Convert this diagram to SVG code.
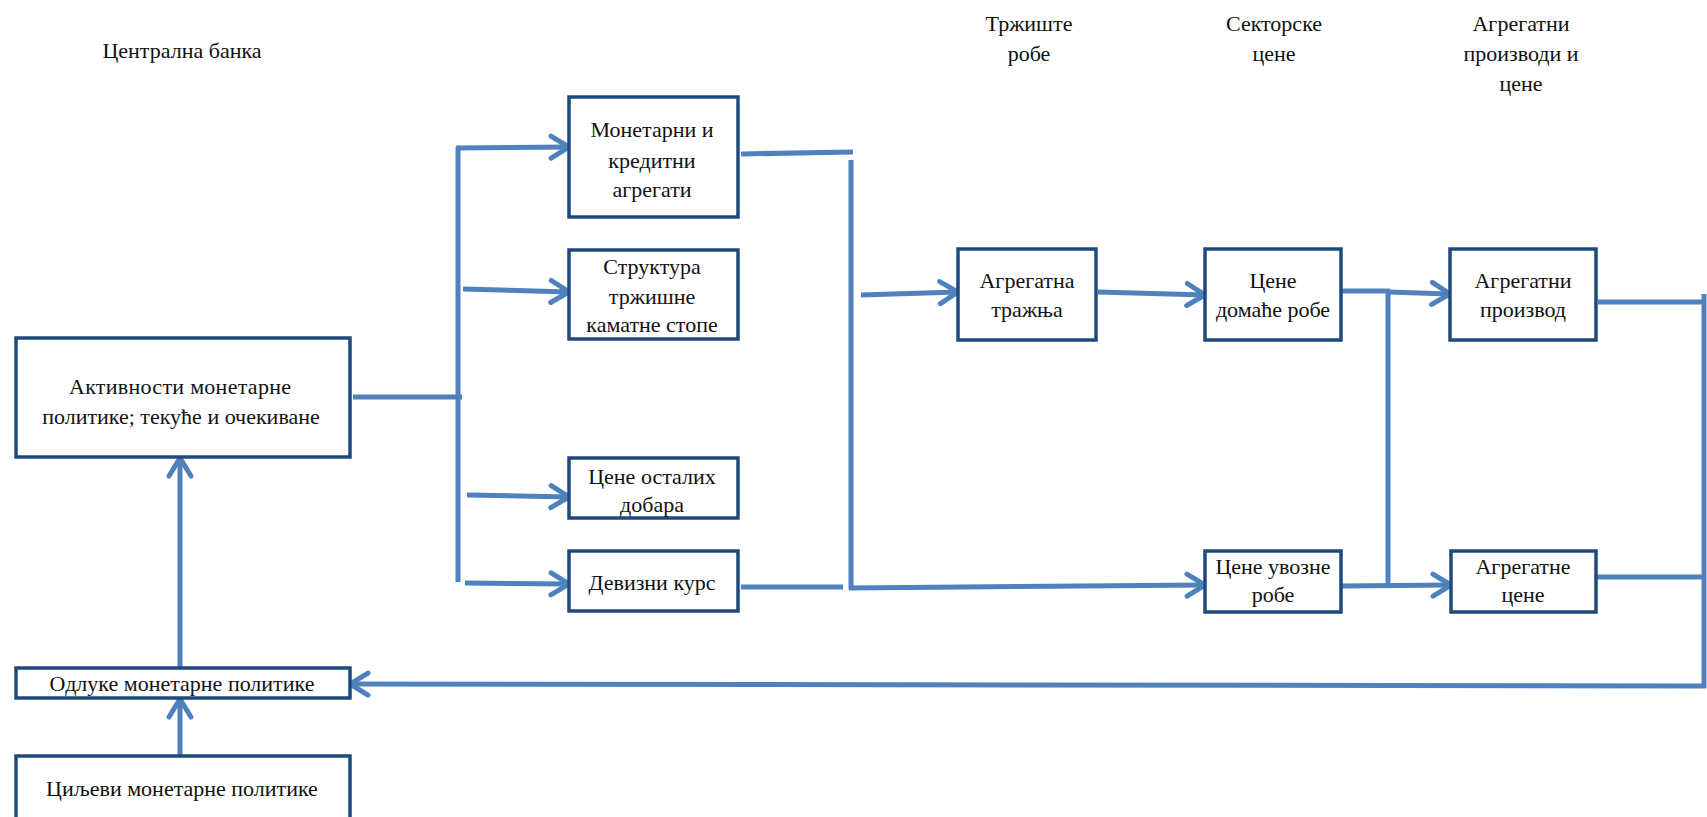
<svg xmlns="http://www.w3.org/2000/svg" width="1707" height="817" viewBox="0 0 1707 817">
<style>
.box{fill:#fff;stroke:#1F497D;stroke-width:3.5}
.t{font-family:"Liberation Serif","Times New Roman",serif;font-size:22px;fill:#111;text-anchor:middle}
.c{fill:none;stroke:#4F81BD;stroke-width:5;stroke-linecap:butt}
.a{marker-end:url(#arr)}
</style>
<defs>
<marker id="arr" markerWidth="26" markerHeight="28" refX="22" refY="14" orient="auto" markerUnits="userSpaceOnUse">
<path d="M4,3 L22,14 L4,25" fill="none" stroke="#4F81BD" stroke-width="5" stroke-linecap="round" stroke-linejoin="miter"/>
</marker>
</defs>
<rect width="1707" height="817" fill="#fff"/>

<g id="labels">
<text class="t" x="182" y="58">Централна банка</text>
<text class="t" x="1029" y="31">Тржиште</text>
<text class="t" x="1029" y="61">робе</text>
<text class="t" x="1274" y="31">Секторске</text>
<text class="t" x="1274" y="61">цене</text>
<text class="t" x="1521" y="31">Агрегатни</text>
<text class="t" x="1521" y="61">производи и</text>
<text class="t" x="1521" y="91">цене</text>
</g>

<g id="connectors">
<path class="c" d="M353,397 L462,397"/>
<path class="c" d="M458,147 L458,582"/>
<path class="c a" d="M456,148 L569,147"/>
<path class="c a" d="M463,289 L569,292"/>
<path class="c a" d="M467,495 L569,497"/>
<path class="c a" d="M465,583 L569,584"/>
<path class="c" d="M741,154 L853,152"/>
<path class="c" d="M851,160 L851,590"/>
<path class="c" d="M741,587 L843,587"/>
<path class="c a" d="M849,588 L1205,585"/>
<path class="c a" d="M861,295 L958,292"/>
<path class="c a" d="M1098,292 L1205,295"/>
<path class="c" d="M1341,291 L1390,291"/>
<path class="c a" d="M1388,292 L1450,294"/>
<path class="c" d="M1388,291 L1388,586"/>
<path class="c a" d="M1342,586 L1451,585"/>
<path class="c" d="M1598,302 L1704,302"/>
<path class="c" d="M1594,577 L1704,577"/>
<path class="c" d="M1704,294 L1704,688"/>
<path class="c a" d="M1706,686 L350,684"/>
<path class="c a" d="M180,667 L180,458"/>
<path class="c a" d="M180,756 L180,699"/>
</g>

<g id="n-aktivnosti">
<rect class="box" x="16" y="338" width="334" height="119"/>
<text class="t" x="180" y="394" textLength="222" lengthAdjust="spacing">Активности монетарне</text>
<text class="t" x="181" y="424">политике; текуће и очекиване</text>
</g>
<g id="n-monetarni">
<rect class="box" x="569" y="97" width="169" height="120"/>
<text class="t" x="652" y="137">Монетарни и</text>
<text class="t" x="652" y="168">кредитни</text>
<text class="t" x="652" y="197">агрегати</text>
</g>
<g id="n-struktura">
<rect class="box" x="569" y="250" width="169" height="89"/>
<text class="t" x="652" y="274">Структура</text>
<text class="t" x="652" y="304">тржишне</text>
<text class="t" x="652" y="332">каматне стопе</text>
</g>
<g id="n-ostalih">
<rect class="box" x="569" y="458" width="169" height="60"/>
<text class="t" x="652" y="484">Цене осталих</text>
<text class="t" x="652" y="512">добара</text>
</g>
<g id="n-devizni">
<rect class="box" x="569" y="551" width="169" height="60"/>
<text class="t" x="652" y="590">Девизни курс</text>
</g>
<g id="n-trazanja">
<rect class="box" x="958" y="249" width="138" height="91"/>
<text class="t" x="1027" y="288">Агрегатна</text>
<text class="t" x="1027" y="317">тражња</text>
</g>
<g id="n-domace">
<rect class="box" x="1205" y="249" width="136" height="91"/>
<text class="t" x="1273" y="288">Цене</text>
<text class="t" x="1273" y="317">домаће робе</text>
</g>
<g id="n-proizvod">
<rect class="box" x="1450" y="249" width="146" height="91"/>
<text class="t" x="1523" y="288">Агрегатни</text>
<text class="t" x="1523" y="317">производ</text>
</g>
<g id="n-uvozne">
<rect class="box" x="1205" y="551" width="136" height="61"/>
<text class="t" x="1273" y="574">Цене увозне</text>
<text class="t" x="1273" y="602">робе</text>
</g>
<g id="n-cene">
<rect class="box" x="1451" y="551" width="145" height="61"/>
<text class="t" x="1523" y="574">Агрегатне</text>
<text class="t" x="1523" y="602">цене</text>
</g>
<g id="n-odluke">
<rect class="box" x="16" y="668" width="334" height="30"/>
<text class="t" x="182" y="691">Одлуке монетарне политике</text>
</g>
<g id="n-ciljevi">
<rect class="box" x="16" y="756" width="334" height="80"/>
<text class="t" x="182" y="796">Циљеви монетарне политике</text>
</g>
</svg>
